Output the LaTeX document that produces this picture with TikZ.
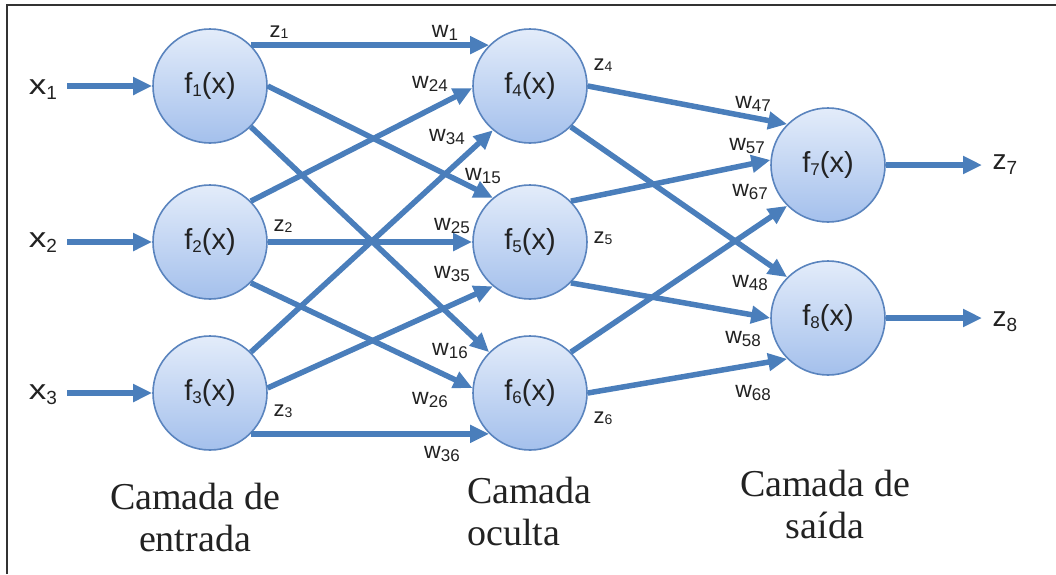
\documentclass[tikz,border=0pt]{standalone}
\usepackage{fontspec}
\setmainfont{Liberation Sans}
\newfontfamily\captionserif{Liberation Serif}
\usetikzlibrary{arrows.meta}
\definecolor{arrowblue}{HTML}{4A7EBB}
\definecolor{circtop}{HTML}{E3ECFA}
\definecolor{circbot}{HTML}{A4C0EC}
\definecolor{circedge}{HTML}{5A84BE}
\definecolor{textdark}{HTML}{222222}
\definecolor{framegray}{HTML}{333333}
\newcommand{\wsub}[1]{\raisebox{-3pt}{\fontsize{17}{17}\selectfont #1}}
\newcommand{\fsub}[1]{\raisebox{-2.5pt}{\fontsize{17}{17}\selectfont #1}}
\newcommand{\zsub}[1]{\raisebox{-1.5pt}{\fontsize{14}{14}\selectfont #1}}
\newcommand{\xsub}[1]{\raisebox{-5pt}{\fontsize{19}{19}\selectfont #1}}
\newcommand{\widex}{\scalebox{1.25}[1]{x}}
\begin{document}
\begin{tikzpicture}[x=1pt,y=-1pt,
  neuron/.style={circle, minimum size=114pt, inner sep=0pt, draw=circedge, line width=1.6pt,
    top color=circtop, bottom color=circbot, text=textdark,
    font=\fontsize{29}{30}\selectfont},
  conn/.style={draw=arrowblue, line width=5.5pt,
    -{Triangle[length=19pt,width=17pt]}},
  wlbl/.style={text=textdark, inner sep=0pt, font=\fontsize{23}{24}\selectfont},
  zlbl/.style={text=textdark, inner sep=0pt, font=\fontsize{22}{24}\selectfont},
  biglbl/.style={text=textdark, inner sep=0pt, font=\fontsize{28}{29}\selectfont},
  captxt/.style={text=textdark, inner sep=0pt, font=\captionserif\fontsize{38}{42}\selectfont},
]
\useasboundingbox (0,0) rectangle (1056,574);
\draw[framegray, line width=2pt] (7,574) -- (7,4.5) -- (1056,4.5);

% neurons
\node[neuron] (f1) at (210,86) {f\fsub{1}(x)};
\node[neuron] (f2) at (210,242) {f\fsub{2}(x)};
\node[neuron] (f3) at (210,393) {f\fsub{3}(x)};
\node[neuron] (f4) at (530,86) {f\fsub{4}(x)};
\node[neuron] (f5) at (530,242) {f\fsub{5}(x)};
\node[neuron] (f6) at (530,393) {f\fsub{6}(x)};
\node[neuron] (f7) at (828,165) {f\fsub{7}(x)};
\node[neuron] (f8) at (828,318) {f\fsub{8}(x)};

% inputs
\node[biglbl] (x1) at (43,90) {\widex\xsub{1}};
\node[biglbl] (x2) at (43,243) {\widex\xsub{2}};
\node[biglbl] (x3) at (43,395) {\widex\xsub{3}};
\coordinate (i1) at (67,86);
\coordinate (i2) at (67,242);
\coordinate (i3) at (67,393);
\draw[conn] (i1) -- (f1.180);
\draw[conn] (i2) -- (f2.180);
\draw[conn] (i3) -- (f3.180);

% outputs
\coordinate (o7) at (982,165);
\coordinate (o8) at (982,318);
\draw[conn] (f7.0) -- (o7);
\draw[conn] (f8.0) -- (o8);
\node[biglbl] (z7) at (1005,165) {z\xsub{7}};
\node[biglbl] (z8) at (1005,322) {z\xsub{8}};

% layer 1 -> layer 2
\draw[conn] (f1.45) -- (f4.135);
\draw[conn] (f1.0) -- (f5.130);
\draw[conn] (f1.-45) -- (f6.135);
\draw[conn] (f2.45) -- (f4.182);
\draw[conn] (f2.0) -- (f5.180);
\draw[conn] (f2.-45) -- (f6.175);
\draw[conn] (f3.45) -- (f4.-130);
\draw[conn] (f3.5) -- (f5.-130);
\draw[conn] (f3.-45) -- (f6.-135);

% layer 2 -> layer 3
\draw[conn] (f4.0) -- (f7.135);
\draw[conn] (f4.-45) -- (f8.135);
\draw[conn] (f5.45) -- (f7.175);
\draw[conn] (f5.-45) -- (f8.180);
\draw[conn] (f6.45) -- (f7.-135);
\draw[conn] (f6.0) -- (f8.-135);

% z labels
\node[zlbl] (lz1) at (279,32) {z\zsub{1}};
\node[zlbl] (lz2) at (283,226) {z\zsub{2}};
\node[zlbl] (lz3) at (283,411) {z\zsub{3}};
\node[zlbl] (lz4) at (603,65) {z\zsub{4}};
\node[zlbl] (lz5) at (603,238) {z\zsub{5}};
\node[zlbl] (lz6) at (603,418) {z\zsub{6}};

% w labels
\node[wlbl] (w1) at (445,33) {w\wsub{1}};
\node[wlbl] (w24) at (430,84) {w\wsub{24}};
\node[wlbl] (w34) at (447,137) {w\wsub{34}};
\node[wlbl] (w15) at (483,176) {w\wsub{15}};
\node[wlbl] (w25) at (452,226) {w\wsub{25}};
\node[wlbl] (w35) at (452,274) {w\wsub{35}};
\node[wlbl] (w16) at (450,351) {w\wsub{16}};
\node[wlbl] (w26) at (430,400) {w\wsub{26}};
\node[wlbl] (w36) at (442,454) {w\wsub{36}};
\node[wlbl] (w47) at (753,104) {w\wsub{47}};
\node[wlbl] (w57) at (747,146) {w\wsub{57}};
\node[wlbl] (w67) at (750,192) {w\wsub{67}};
\node[wlbl] (w48) at (750,283) {w\wsub{48}};
\node[wlbl] (w58) at (743,339) {w\wsub{58}};
\node[wlbl] (w68) at (753,393) {w\wsub{68}};

% captions
\node[captxt, align=center] (c1) at (195,517) {Camada de\\entrada};
\node[captxt, align=left, anchor=west] (c2) at (467,511) {Camada\\oculta};
\node[captxt, align=center] (c3) at (825,504) {Camada de\\saída};
\end{tikzpicture}
\end{document}
